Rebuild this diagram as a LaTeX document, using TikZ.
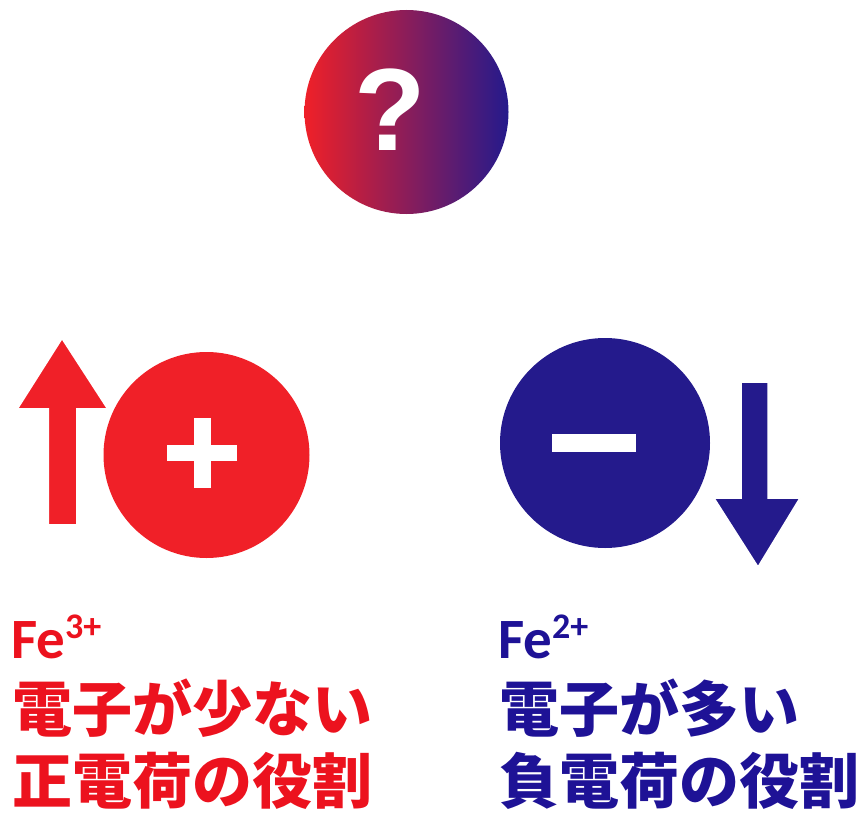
\documentclass[tikz,border=0pt]{standalone}
\usepackage{fontspec}
\setmainfont{Carlito}
\newfontfamily\cjk{Noto Sans CJK JP}
\newfontfamily\qfont{Liberation Sans}
\definecolor{ired}{RGB}{240,32,40}
\definecolor{iblue}{RGB}{36,26,140}
\definecolor{tred}{RGB}{236,18,30}
\definecolor{tblue}{RGB}{30,18,150}
\tikzset{
  fetext/.style={anchor=base west, inner sep=0pt, font=\fontsize{57}{57}\selectfont\bfseries},
  jptext/.style={anchor=base west, inner sep=0pt, font=\fontsize{60}{60}\selectfont\cjk\bfseries},
  sign/.style={fill=white, draw=none}
}
\newcommand{\supch}[1]{\raisebox{20pt}{\fontsize{36}{36}\selectfont #1}}
\begin{document}
\begin{tikzpicture}[x=1pt,y=-1pt]
\useasboundingbox (0,0) rectangle (861,813);
% top gradient circle
\shade[left color=ired, right color=iblue, shading=axis] (406.5,112) circle (102);
\node[inner sep=0pt, text=white, font=\fontsize{117}{117}\selectfont\qfont\bfseries] (q) at (390,110) {?};
% red circle with plus
\fill[ired] (206.5,455) circle (103);
\fill[sign] (167,445) rectangle (237,461);
\fill[sign] (194,418) rectangle (211,488);
% red arrow up
\filldraw[fill=ired, draw=white, line width=2pt, line join=miter]
  (48,525) -- (48,409) -- (17,409) -- (62,338) -- (108,409) -- (77,409) -- (77,525) -- cycle;
% blue circle with minus
\fill[iblue] (605,443) circle (105);
\fill[sign] (552,434) rectangle (636,452);
% blue arrow down
\filldraw[fill=iblue, draw=white, line width=1.5pt, line join=miter]
  (741,382) -- (768,382) -- (768,498) -- (800,498) -- (758,567) -- (714,498) -- (741,498) -- cycle;
% texts
\node[fetext, text=tred] (fe3) at (11,658) {Fe\supch{3+}};
\node[jptext, text=tred] (l1) at (12,731) {電子が少ない};
\node[jptext, text=tred] (l2) at (12,803) {正電荷の役割};
\node[fetext, text=tblue] (fe2) at (498,658) {Fe\supch{2+}};
\node[jptext, text=tblue] (r1) at (499,731) {電子が多い};
\node[jptext, text=tblue] (r2) at (499,803) {負電荷の役割};
\end{tikzpicture}
\end{document}
